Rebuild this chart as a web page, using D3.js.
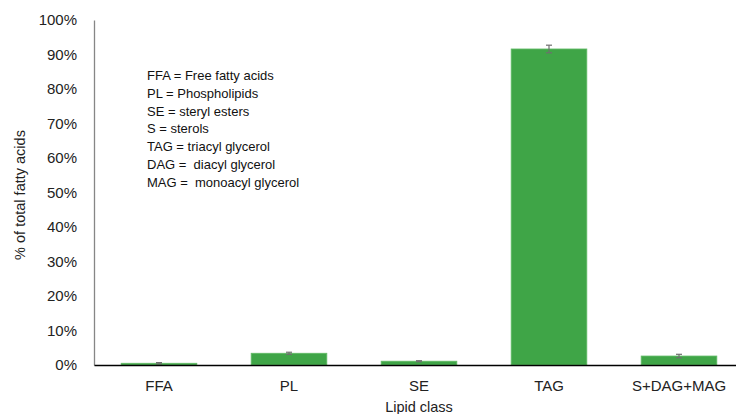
<!DOCTYPE html>
<html>
<head>
<meta charset="utf-8">
<script src="https://cdn.jsdelivr.net/npm/d3@7"></script>
<style>
  html, body { margin: 0; padding: 0; background: #fff; }
  svg { display: block; font-family: "Liberation Sans", Arial, sans-serif; }
</style>
</head>
<body>
<svg id="chart" width="736" height="414"></svg>
<script>
const categories = ["FFA", "PL", "SE", "TAG", "S+DAG+MAG"];
const values = [0.5, 3.4, 1.1, 91.6, 2.6];
const errors = [0.2, 0.3, 0.15, 1.1, 0.5];
const yTicks = [0, 10, 20, 30, 40, 50, 60, 70, 80, 90, 100];
const notes = [
  "FFA = Free fatty acids",
  "PL = Phospholipids",
  "SE = steryl esters",
  "S = sterols",
  "TAG = triacyl glycerol",
  "DAG =  diacyl glycerol",
  "MAG =  monoacyl glycerol"
];

const svg = d3.select("#chart");

const x = d3.scaleBand().domain(categories).range([94, 744])
  .paddingInner(0.418).paddingOuter(0.209);
const y = d3.scaleLinear().domain([0, 100]).range([365, 20]);

// Y axis
const yAxis = svg.append("g").attr("transform", "translate(94,0)")
  .call(d3.axisLeft(y).tickValues(yTicks).tickSize(0).tickPadding(17)
    .tickFormat(d => d + "%"));
yAxis.select(".domain").attr("stroke", "#868686").attr("stroke-width", 1.3);
yAxis.selectAll("text").attr("font-size", 15).attr("fill", "#222")
  .attr("font-family", "Liberation Sans, Arial, sans-serif");

// Bars
svg.append("g").selectAll("rect").data(categories).join("rect")
  .attr("x", d => x(d))
  .attr("width", x.bandwidth())
  .attr("y", (d, i) => y(values[i]))
  .attr("height", (d, i) => y(0) - y(values[i]))
  .attr("fill", "#3fa547")
  .attr("stroke", "#62bb66")
  .attr("stroke-width", 0.8);

// Error bars
const eg = svg.append("g").attr("stroke", "#6f6f6f").attr("stroke-width", 1.2);
categories.forEach((c, i) => {
  const cx = x(c) + x.bandwidth() / 2;
  const top = y(values[i] + errors[i]);
  const bot = y(values[i] - errors[i]);
  eg.append("line").attr("x1", cx).attr("x2", cx).attr("y1", top).attr("y2", bot);
  eg.append("line").attr("x1", cx - 3).attr("x2", cx + 3).attr("y1", top).attr("y2", top);
  eg.append("line").attr("x1", cx - 3).attr("x2", cx + 3).attr("y1", bot).attr("y2", bot);
});

// X axis
const xAxis = svg.append("g").attr("transform", "translate(0,365)")
  .call(d3.axisBottom(x).tickSize(0).tickPadding(15));
xAxis.select(".domain").attr("stroke", "#000").attr("stroke-width", 1.5);
xAxis.selectAll("text").attr("font-size", 15).attr("fill", "#222")
  .attr("font-family", "Liberation Sans, Arial, sans-serif");

// Axis titles
svg.append("text").attr("x", 419).attr("y", 412)
  .attr("text-anchor", "middle").attr("font-size", 14.5).attr("fill", "#222")
  .text("Lipid class");
svg.append("text")
  .attr("transform", "translate(25,195) rotate(-90)")
  .attr("text-anchor", "middle").attr("font-size", 14.5).attr("fill", "#222")
  .text("% of total fatty acids");

// Notes
svg.append("g").selectAll("text").data(notes).join("text")
  .attr("x", 147)
  .attr("y", (d, i) => 80 + i * 17.8)
  .attr("font-size", 13).attr("fill", "#111")
  .attr("xml:space", "preserve")
  .style("white-space", "pre")
  .text(d => d);
</script>
</body>
</html>
